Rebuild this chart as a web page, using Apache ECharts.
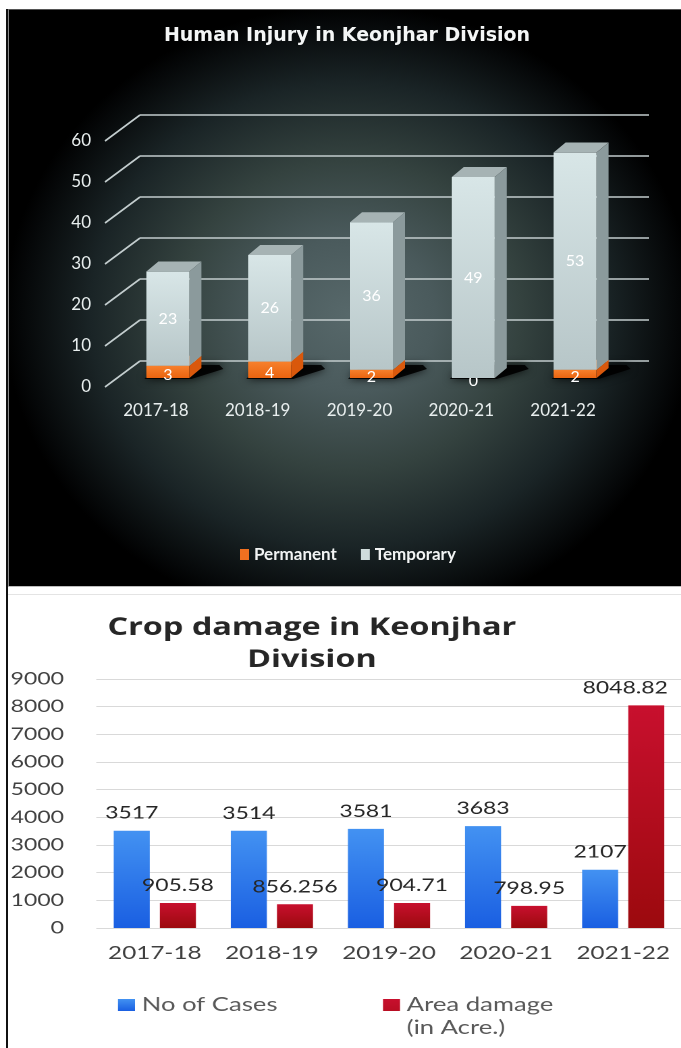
<!DOCTYPE html>
<html><head><meta charset="utf-8">
<script src="https://cdn.jsdelivr.net/npm/echarts@6/dist/echarts.min.js"></script>
<style>
html,body{margin:0;padding:0;background:#fff;width:681px;height:1048px;overflow:hidden;position:relative;}
#bg1{position:absolute;left:8px;top:9px;width:673px;height:577px;box-sizing:border-box;
 border-top:1px solid #555;border-left:1px solid #8a8a8a;
 background:radial-gradient(ellipse 345px 310px at 340px 305px,#57686a 0%,#4a5a5c 25%,#34423f 50%,#1a2426 75%,#050708 95%,#000 100%);}
#c1{position:absolute;left:0;top:0;width:681px;height:588px;}
#line586{position:absolute;left:8px;top:586px;width:673px;height:1px;background:#bdbdbd;}
#sep{position:absolute;left:8px;top:594px;width:673px;height:1px;background:#e4e4e4;}
#c2{position:absolute;left:0;top:588px;width:505px;height:460px;transform:scaleX(1.35);transform-origin:0 0;}
#lline{position:absolute;left:6px;top:9px;width:2px;height:1039px;background:#111;z-index:10;}
</style></head>
<body>
<div id="bg1"></div>
<div id="c1"></div>
<div id="line586"></div>
<div id="sep"></div>
<div id="c2"></div>
<div id="lline"></div>
<script>
// ---- data: Human Injury ----
const categories = ['2017-18','2018-19','2019-20','2020-21','2021-22'];
const permanent = [3, 4, 2, 0, 2];
const temporary = [23, 26, 36, 49, 53];
const injuryTicks = [0, 10, 20, 30, 40, 50, 60];
// ---- data: Crop damage ----
const cropCases = [3517, 3514, 3581, 3683, 2107];
const cropArea = [905.58, 856.256, 904.71, 798.95, 8048.82];
const cropTicks = [0, 1000, 2000, 3000, 4000, 5000, 6000, 7000, 8000, 9000];

// ---------- Chart 1 ----------
const DX = 12, DY = 10, HW = 21.5, SHIFTX = 12, SHIFTY = 9;
function bar3d(front, side, topc, withShadow, labelDy) {
  return function (params, api) {
    const i = api.value(0), v0 = api.value(1), v1 = api.value(2), lab = api.value(3);
    const pb = api.coord([i, v0]), pt = api.coord([i, v1]);
    const cx = pb[0] + SHIFTX, yb = pb[1] - SHIFTY, yt = pt[1] - SHIFTY;
    const ch = [];
    if (withShadow) {
      ch.push({type:'polygon', shape:{points:[[cx-HW-2,yb+1],[cx+HW+2,yb+1],[cx+HW+DX+22,yb-DY+1],[cx+HW+DX+18,yb-DY-3],[cx-HW+DX,yb-DY-3]]},
        style:{fill:'rgba(0,0,0,0.9)', shadowBlur:8, shadowColor:'rgba(0,0,0,0.9)'}, z2:0});
    }
    if (yb - yt > 0.5) {
      ch.push({type:'polygon', shape:{points:[[cx+HW,yb],[cx+HW+DX,yb-DY],[cx+HW+DX,yt-DY],[cx+HW,yt]]},
        style:{fill:side}, z2:1});
      ch.push({type:'polygon', shape:{points:[[cx-HW,yt],[cx-HW+DX,yt-DY],[cx+HW+DX,yt-DY],[cx+HW,yt]]},
        style:{fill:topc}, z2:1});
      ch.push({type:'rect', shape:{x:cx-HW, y:yt, width:2*HW, height:yb-yt},
        style:{fill:front}, z2:2});
    }
    ch.push({type:'text', style:{text:String(lab), x:cx, y:(yt+yb)/2 + labelDy, align:'center', verticalAlign:'middle',
      fill:'#ffffff', font:'16px Lato'}, z2:3});
    return {type:'group', children:ch};
  };
}
const grayFront = new echarts.graphic.LinearGradient(0,0,0,1,[{offset:0,color:'#d8e6e7'},{offset:1,color:'#b7c6c8'}]);
const orangeFront = new echarts.graphic.LinearGradient(0,0,0,1,[{offset:0,color:'#f7802c'},{offset:1,color:'#ea6410'}]);

const chart1 = echarts.init(document.getElementById('c1'), null, {renderer:'canvas'});
chart1.setOption({
  backgroundColor:'transparent',
  animation:false,
  title:{text:'Human Injury in Keonjhar Division', left:347, top:27, textAlign:'center', padding:0,
    textStyle:{fontFamily:'DejaVu Sans', fontWeight:'bold', fontSize:19, color:'#f4f6f6'}},
  legend:{data:['Permanent','Temporary'], left:240, top:546, padding:0, icon:'rect', itemWidth:9, itemHeight:11, itemGap:24,
    textStyle:{fontFamily:'Lato', fontWeight:'bold', fontSize:17, color:'#f2f4f4'}},
  grid:[
    {left:105, top:141, width:509, height:246},
    {left:140, top:115, width:509, height:246}
  ],
  xAxis:[
    {type:'category', gridIndex:0, data:categories, axisLine:{show:false}, axisTick:{show:false},
      axisLabel:{interval:0, margin:15, fontFamily:'Lato', fontSize:17, color:'#e8eeee'}},
    {type:'category', gridIndex:1, data:categories, show:false}
  ],
  yAxis:[
    {type:'value', gridIndex:0, min:injuryTicks[0], max:injuryTicks[injuryTicks.length-1], interval:10,
      axisLine:{show:false}, axisTick:{show:false}, splitLine:{show:false},
      axisLabel:{margin:14, fontFamily:'Lato', fontSize:17, color:'#e8eeee'}},
    {type:'value', gridIndex:1, min:injuryTicks[0], max:injuryTicks[injuryTicks.length-1], interval:10,
      axisLine:{show:false}, axisTick:{show:false}, axisLabel:{show:false},
      splitLine:{lineStyle:{color:'#c3cdce', width:1.6}}}
  ],
  series:[
    {type:'custom', name:'grid-diag', xAxisIndex:0, yAxisIndex:0, silent:true, z:1,
      data: injuryTicks.map(t => [0, t]), encode:{x:0, y:1},
      renderItem:(params, api) => {
        const p = api.coord([0, api.value(1)]);
        const x0 = params.coordSys.x;
        return {type:'line', shape:{x1:x0, y1:p[1], x2:x0+35, y2:p[1]-26}, style:{stroke:'#c3cdce', lineWidth:1.6}};
      }},
    {type:'custom', name:'Permanent', xAxisIndex:0, yAxisIndex:0, z:3,
      itemStyle:{color:'#f07020'},
      data: categories.map((c,i) => [i, 0, permanent[i], permanent[i]]), encode:{x:0, y:[1,2]},
      renderItem: bar3d(orangeFront, '#d9580c', '#f58a3c', true, 3)},
    {type:'custom', name:'Temporary', xAxisIndex:0, yAxisIndex:0, z:4,
      itemStyle:{color:'#cfdcdc'},
      data: categories.map((c,i) => [i, permanent[i], permanent[i]+temporary[i], temporary[i]]), encode:{x:0, y:[1,2]},
      renderItem: bar3d(grayFront, '#8b9a9c', '#a6b3b4', false, 0)}
  ]
});

// ---------- Chart 2 ----------
const blueGrad = new echarts.graphic.LinearGradient(0,0,0,1,[{offset:0,color:'#4392f2'},{offset:1,color:'#1a5fe2'}]);
const redGrad = new echarts.graphic.LinearGradient(0,0,0,1,[{offset:0,color:'#c8102e'},{offset:1,color:'#9c0a0e'}]);
const chart2 = echarts.init(document.getElementById('c2'), null, {renderer:'canvas', devicePixelRatio:2});
const areaName = 'Area damage (in Acre.)';
const lastIdx = cropArea.length - 1;
chart2.setOption({
  backgroundColor:'transparent',
  animation:false,
  title:{text:'Crop damage in Keonjhar\nDivision', left:231, top:24, textAlign:'center', padding:0,
    textStyle:{fontFamily:'Open Sans', fontWeight:'bold', fontSize:24, lineHeight:32, color:'#262626'}},
  legend:[
    {data:['No of Cases'], left:87.4, top:405.5, padding:0, icon:'rect', itemWidth:12.6, itemHeight:12,
      textStyle:{fontFamily:'Lato', fontSize:19, lineHeight:23, color:'#595959'}},
    {data:[{name:areaName, icon:'path://M0,0L12.6,0L12.6,12L0,12Z M0,35L0.01,35'}], left:283.7, top:405.5, padding:0,
      itemWidth:12.6, itemHeight:35,
      formatter: n => n.replace(' (', '\n('),
      textStyle:{fontFamily:'Lato', fontSize:19, lineHeight:23, color:'#595959'}}
  ],
  grid:{left:71.3, top:91, width:435.2, height:249},
  xAxis:{type:'category', data:categories, axisLine:{show:false}, axisTick:{show:false},
    axisLabel:{interval:0, margin:16, fontFamily:'Lato', fontSize:18, color:'#404040'}},
  yAxis:{type:'value', min:cropTicks[0], max:cropTicks[cropTicks.length-1], interval:1000,
    axisLine:{show:false}, axisTick:{show:false},
    axisLabel:{margin:24, fontFamily:'Lato', fontSize:17, color:'#404040', formatter: v => String(v)},
    splitLine:{lineStyle:{color:'#d9d9d9', width:1}}},
  series:[
    {name:'No of Cases', type:'bar', data:cropCases, barWidth:26.7, barGap:'28%',
      itemStyle:{color:blueGrad},
      label:{show:true, position:'top', distance:9, fontFamily:'Lato', fontSize:17, color:'#262626'}},
    {name:areaName, type:'bar', barWidth:26.7, barGap:'28%',
      data: cropArea.map((v,i) => i === lastIdx ? {value:v, label:{offset:[-15.6,0]}} : v),
      itemStyle:{color:redGrad},
      label:{show:true, position:'top', distance:9, fontFamily:'Lato', fontSize:17, color:'#262626'}}
  ]
});
</script>
</body></html>
